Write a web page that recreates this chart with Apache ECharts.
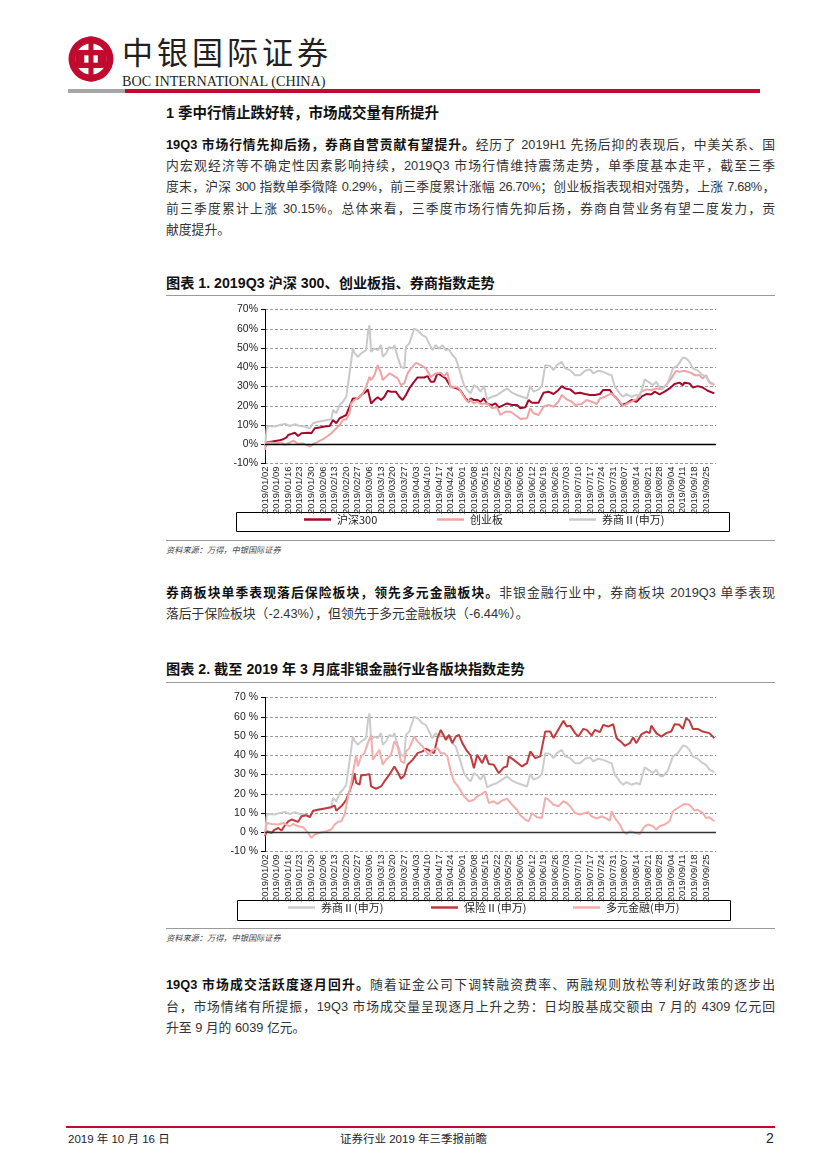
<!DOCTYPE html>
<html><head><meta charset="utf-8">
<script src="https://cdn.jsdelivr.net/npm/echarts@6/dist/echarts.min.js"></script>
<style>
body{margin:0;background:#fff;}
#page{position:relative;width:827px;height:1169px;overflow:hidden;background:#fff;
  font-family:"Liberation Sans Narrow","Liberation Sans","Noto Sans CJK SC",sans-serif;color:#333;}
.a{position:absolute;}
.para{position:absolute;left:166px;width:609px;font-size:12.8px;line-height:21.2px;}
.para div{text-align:justify;text-align-last:justify;}
.para div.last{text-align:left;text-align-last:left;}
.para div.tight{letter-spacing:-0.3px;}
.para b{color:#111;font-weight:bold;}
.ttl{position:absolute;left:166px;font-size:14.2px;font-weight:bold;color:#111;line-height:18px;}
.rule{position:absolute;left:166px;width:609px;height:1px;background:#9a9a9a;}
.src{position:absolute;left:166px;font-size:8.2px;font-style:italic;color:#444;line-height:12px;}
</style></head>
<body><div id="page">
  <svg class="a" style="left:68px;top:36px" width="46" height="46" viewBox="0 0 44 44">
    <circle cx="22" cy="22" r="21.5" fill="#C00A2E"/>
    <circle cx="22" cy="22" r="14.8" fill="#fff"/>
    <rect x="7" y="13.5" width="30" height="17" rx="4" fill="#C00A2E"/>
    <rect x="15.5" y="18.5" width="13" height="7" fill="#fff"/>
    <rect x="19.6" y="0.5" width="4.8" height="43" fill="#C00A2E"/>
  </svg>
  <div class="a" style="left:122px;top:33px;font-family:'Noto Sans CJK SC';font-size:31px;letter-spacing:4px;line-height:36px;color:#231f20;">中银国际证券</div>
  <div class="a" style="left:122px;top:73px;font-family:'Liberation Serif',serif;font-size:14.2px;line-height:16px;color:#231f20;">BOC INTERNATIONAL (CHINA)</div>
  <div class="a" style="left:68px;top:89px;width:57px;height:4px;background:#a6a6a6;"></div>
  <div class="a" style="left:125px;top:89px;width:635px;height:4px;background:#C00A2E;"></div>

  <div class="ttl" style="top:104px;font-size:14.5px;">1 季中行情止跌好转，市场成交量有所提升</div>

  <div class="para" style="top:134px;">
    <div><b>19Q3 市场行情先抑后扬，券商自营贡献有望提升。</b>经历了 2019H1 先扬后抑的表现后，中美关系、国</div>
    <div>内宏观经济等不确定性因素影响持续，2019Q3 市场行情维持震荡走势，单季度基本走平，截至三季</div>
    <div class="tight">度末，沪深 300 指数单季微降 0.29%，前三季度累计涨幅 26.70%；创业板指表现相对强势，上涨 7.68%，</div>
    <div>前三季度累计上涨 30.15%。总体来看，三季度市场行情先抑后扬，券商自营业务有望二度发力，贡</div>
    <div class="last">献度提升。</div>
  </div>

  <div class="ttl" style="top:274px;">图表 1. 2019Q3 沪深 300、创业板指、券商指数走势</div>
  <div class="rule" style="top:295px;"></div>
  <div id="c1" class="a" style="left:166px;top:300px;width:609px;height:236px;"></div>
  <div class="rule" style="top:540px;"></div>
  <div class="src" style="top:545px;">资料来源：万得，中银国际证券</div>

  <div class="para" style="top:582px;">
    <div><b>券商板块单季表现落后保险板块，领先多元金融板块。</b>非银金融行业中，券商板块 2019Q3 单季表现</div>
    <div class="last">落后于保险板块（-2.43%），但领先于多元金融板块（-6.44%）。</div>
  </div>

  <div class="ttl" style="top:660px;">图表 2. 截至 2019 年 3 月底非银金融行业各版块指数走势</div>
  <div class="rule" style="top:682px;"></div>
  <div id="c2" class="a" style="left:166px;top:688px;width:609px;height:236px;"></div>
  <div class="rule" style="top:928px;"></div>
  <div class="src" style="top:933px;">资料来源：万得，中银国际证券</div>

  <div class="para" style="top:974px;line-height:21.5px;">
    <div><b>19Q3 市场成交活跃度逐月回升。</b>随着证金公司下调转融资费率、两融规则放松等利好政策的逐步出</div>
    <div>台，市场情绪有所提振，19Q3 市场成交量呈现逐月上升之势：日均股基成交额由 7 月的 4309 亿元回</div>
    <div class="last">升至 9 月的 6039 亿元。</div>
  </div>

  <div class="a" style="left:66px;top:1126px;width:709px;height:1.5px;background:#C00A2E;"></div>
  <div class="a" style="left:68px;top:1131px;font-size:11.5px;line-height:16px;color:#222;">2019 年 10 月 16 日</div>
  <div class="a" style="left:340px;top:1131px;font-size:11.5px;line-height:16px;color:#222;">证券行业 2019 年三季报前瞻</div>
  <div class="a" style="left:766px;top:1129px;font-size:14px;line-height:18px;color:#222;">2</div>
</div>
<script>
// x = calendar days since 2019/01/02, y = cumulative change (%)
const weekLabels = ['2019/01/02','2019/01/09','2019/01/16','2019/01/23','2019/01/30','2019/02/06','2019/02/13','2019/02/20','2019/02/27','2019/03/06','2019/03/13','2019/03/20','2019/03/27','2019/04/03','2019/04/10','2019/04/17','2019/04/24','2019/05/01','2019/05/08','2019/05/15','2019/05/22','2019/05/29','2019/06/05','2019/06/12','2019/06/19','2019/06/26','2019/07/03','2019/07/10','2019/07/17','2019/07/24','2019/07/31','2019/08/07','2019/08/14','2019/08/21','2019/08/28','2019/09/04','2019/09/11','2019/09/18','2019/09/25'];
const yTicks = [-10, 0, 10, 20, 30, 40, 50, 60, 70];

const hs300 = [[0,-1.2],[1,0.9],[8,1.9],[11,2.6],[13,3.6],[14,4.8],[16,5.4],[18,6.0],[20,4.3],[22,5.7],[26,6.0],[28,5.7],[30,8.3],[32,8.6],[36,9.2],[39,9.5],[41,12.6],[43,10.9],[45,13.5],[47,14.3],[49,15.2],[51,19.5],[53,23.8],[54,23.0],[56,23.8],[58,25.6],[61,27.3],[62,28.5],[64,21.2],[66,23.0],[68,24.4],[70,23.0],[72,24.7],[74,27.8],[76,27.3],[79,27.3],[81,24.7],[83,23.0],[85,25.6],[87,29.0],[90,32.5],[92,34.7],[96,34.7],[98,35.4],[100,32.5],[102,32.5],[104,36.8],[106,35.9],[109,34.2],[112,29.9],[114,29.5],[116,29.0],[118,27.8],[121,23.8],[123,22.1],[124,23.8],[126,23.0],[128,23.0],[130,22.0],[132,23.8],[134,20.9],[137,20.4],[139,21.2],[141,19.2],[146,21.2],[149,20.4],[152,20.4],[154,18.7],[157,19.2],[159,23.0],[161,21.6],[165,21.6],[168,26.8],[171,27.3],[174,26.1],[177,28.2],[179,30.2],[181,29.0],[184,28.5],[187,26.4],[190,26.8],[193,26.1],[196,25.6],[199,25.6],[202,26.1],[204,28.2],[208,28.2],[210,25.6],[213,23.0],[215,20.4],[218,21.2],[221,23.0],[224,22.1],[227,24.7],[230,26.1],[233,25.9],[235,27.3],[238,25.9],[241,27.3],[244,29.0],[247,31.3],[250,32.0],[252,30.7],[253,32.0],[256,31.6],[258,29.5],[261,30.2],[264,29.5],[267,27.8],[271,26.4]];

const cyb = [[0,-2.9],[1,0.5],[3,0.9],[7,0.5],[10,0.9],[12,-0.3],[15,0.9],[17,1.9],[20,0.2],[23,0.5],[27,-1.2],[28,-2.1],[30,0.5],[32,1.4],[36,3.1],[40,5.7],[43,8.3],[45,10.0],[47,12.6],[49,13.0],[51,16.0],[52,21.2],[54,23.0],[55,22.1],[57,24.7],[59,26.4],[61,29.9],[63,35.0],[64,33.3],[66,35.9],[68,41.1],[70,36.8],[71,33.3],[73,35.0],[75,36.8],[77,35.9],[80,34.2],[82,30.7],[84,31.6],[86,36.8],[88,39.4],[91,42.3],[94,41.1],[97,39.4],[100,35.0],[103,36.8],[106,37.1],[108,35.4],[110,37.1],[112,29.5],[115,29.9],[117,29.0],[120,24.7],[122,22.1],[124,23.0],[126,21.2],[128,22.1],[130,20.9],[134,21.2],[137,18.7],[140,19.2],[142,15.2],[145,16.9],[148,16.9],[151,15.2],[154,13.1],[158,13.5],[160,18.7],[162,16.1],[165,15.2],[168,19.5],[171,20.4],[174,19.5],[177,22.1],[179,25.6],[182,23.3],[185,22.1],[187,20.4],[191,20.9],[194,23.0],[197,22.1],[200,20.9],[202,23.8],[205,24.7],[209,26.4],[212,23.8],[216,19.9],[218,20.9],[221,22.1],[224,23.3],[227,27.3],[230,28.5],[233,28.2],[236,29.0],[239,28.5],[242,30.7],[245,34.2],[248,38.2],[250,37.6],[253,38.2],[257,37.1],[259,35.9],[262,35.9],[264,34.2],[266,35.9],[268,32.0],[271,30.7]];

const qs = [[0,-1.2],[1,8.3],[2,9.5],[6,9.2],[9,10.0],[12,10.5],[15,9.5],[18,10.4],[21,9.5],[24,9.2],[27,8.3],[29,10.9],[32,11.7],[36,12.3],[40,13.0],[41,17.8],[43,16.1],[45,20.4],[47,22.1],[49,24.7],[51,36.8],[53,49.7],[54,47.5],[56,45.4],[57,44.6],[58,47.2],[61,48.9],[62,57.5],[63,61.8],[64,48.0],[66,49.7],[68,48.9],[70,51.5],[71,45.4],[73,47.2],[75,50.6],[77,49.7],[78,51.5],[80,45.4],[82,40.2],[84,39.4],[85,50.6],[87,52.3],[90,60.1],[92,59.2],[95,56.6],[97,55.8],[99,52.3],[101,48.9],[103,51.5],[105,49.7],[107,51.5],[109,48.9],[111,49.2],[113,46.3],[115,44.6],[117,39.4],[120,30.7],[122,28.2],[124,26.4],[126,30.7],[128,29.5],[130,27.3],[132,30.2],[134,23.3],[137,24.7],[140,25.6],[143,27.3],[146,29.0],[149,26.8],[152,25.6],[155,24.7],[158,23.8],[160,30.2],[162,27.3],[165,28.5],[167,30.2],[169,41.1],[172,40.6],[174,38.5],[176,41.1],[179,42.8],[181,39.4],[184,38.5],[187,35.9],[190,35.9],[193,38.2],[196,38.9],[198,36.8],[201,38.2],[204,37.6],[207,36.4],[209,35.9],[211,29.9],[214,26.4],[216,24.7],[218,26.1],[221,24.7],[224,25.6],[226,24.7],[229,33.7],[231,32.5],[234,30.7],[236,32.5],[238,29.5],[240,29.0],[243,32.0],[246,39.4],[249,41.1],[252,45.1],[254,44.6],[256,42.8],[258,39.4],[261,38.2],[264,35.9],[266,35.0],[268,32.5],[271,31.2]];

const bx = [[0,-2.1],[1,0.5],[2,0.9],[4,-0.3],[6,1.4],[8,2.2],[10,0.9],[12,3.6],[14,5.7],[16,6.6],[20,5.4],[22,8.3],[25,8.8],[27,7.8],[29,11.2],[32,11.7],[36,12.3],[40,13.0],[42,14.0],[43,11.2],[46,13.5],[48,15.7],[49,16.9],[51,21.2],[53,26.4],[54,30.7],[55,25.6],[57,24.7],[58,29.5],[61,29.9],[63,30.2],[64,23.8],[67,22.6],[70,23.8],[72,26.4],[75,29.9],[78,34.2],[80,31.3],[82,27.8],[84,29.5],[86,35.1],[89,37.6],[92,41.1],[95,42.0],[97,43.4],[100,42.0],[102,41.1],[104,48.9],[106,53.2],[107,51.5],[109,48.0],[111,50.6],[113,46.3],[115,49.7],[117,50.6],[119,46.3],[122,42.0],[124,39.9],[126,33.3],[128,40.2],[131,35.9],[133,40.2],[135,35.4],[138,35.1],[141,30.7],[144,33.7],[146,34.2],[147,39.4],[150,37.6],[155,34.2],[158,35.9],[160,42.0],[163,38.5],[166,39.4],[169,52.3],[172,52.3],[174,48.9],[178,54.9],[180,57.9],[182,54.9],[184,55.4],[187,51.5],[189,49.7],[192,53.7],[194,53.2],[197,50.3],[199,53.2],[202,52.0],[204,55.8],[207,54.9],[210,56.1],[212,48.9],[215,46.8],[217,44.9],[220,46.3],[222,49.2],[224,46.3],[227,50.9],[230,52.3],[232,51.5],[233,55.4],[236,51.5],[239,49.7],[242,51.5],[245,52.3],[247,56.1],[250,55.8],[252,53.7],[254,59.2],[256,57.9],[258,53.7],[261,53.7],[264,52.3],[268,51.5],[271,48.9]];

const dyjr = [[0,-1.2],[1,4.8],[4,4.3],[8,4.0],[11,4.8],[15,3.1],[17,4.3],[20,3.1],[23,2.6],[26,-0.3],[28,-2.9],[30,-1.2],[33,-0.3],[37,0.5],[40,1.4],[42,4.0],[44,5.4],[46,5.7],[48,9.2],[50,17.8],[52,25.6],[53,30.7],[55,40.2],[56,34.2],[58,39.4],[60,41.1],[62,46.3],[64,50.6],[65,37.7],[66,38.5],[69,42.8],[71,35.1],[73,37.7],[76,40.2],[78,47.2],[80,44.6],[82,36.8],[84,35.9],[85,42.0],[87,43.7],[90,49.7],[92,47.2],[95,44.6],[97,42.0],[99,40.2],[101,42.8],[104,43.7],[106,41.1],[108,41.1],[110,39.4],[112,31.6],[114,26.4],[117,23.0],[120,18.7],[123,16.1],[126,16.9],[128,18.7],[130,19.5],[133,21.2],[135,15.2],[138,16.1],[140,14.7],[143,16.4],[146,17.4],[149,14.3],[152,11.7],[154,8.8],[157,6.6],[159,5.7],[161,10.0],[164,7.8],[167,7.4],[169,17.8],[171,16.9],[174,14.3],[177,13.5],[180,16.1],[182,15.2],[184,13.5],[187,10.0],[190,9.2],[193,10.0],[195,10.5],[197,8.3],[200,7.1],[203,8.3],[206,7.1],[208,6.0],[209,10.9],[211,7.4],[214,4.0],[216,0.5],[218,-0.9],[220,0.5],[223,-0.3],[226,-0.9],[229,3.1],[231,4.0],[234,3.1],[236,1.4],[238,3.1],[241,4.0],[244,5.7],[246,10.9],[249,12.6],[253,14.7],[256,14.3],[259,11.2],[261,11.7],[264,10.0],[266,7.4],[268,7.8],[271,5.7]];

const chart1Series = [
  {name:'沪深300', data:hs300, color:'#A50A2A', legendX:138},
  {name:'创业板', data:cyb, color:'#EFA3A5', legendX:271},
  {name:'券商Ⅱ(申万)', data:qs, color:'#C9C9C9', legendX:403}
];
const chart2Series = [
  {name:'券商Ⅱ(申万)', data:qs, color:'#CCCCCC', legendX:122},
  {name:'保险Ⅱ(申万)', data:bx, color:'#C03A3E', legendX:265},
  {name:'多元金融(申万)', data:dyjr, color:'#F2ADAD', legendX:407}
];

const narrow = "'Liberation Sans Narrow','Liberation Sans',Arial,sans-serif";
const cjk = "'Noto Sans CJK SC',sans-serif";

function build(dom, defs, pctSep, zeroColor, box){
  const chart = echarts.init(dom, null, {renderer:'canvas'});
  chart.setOption({
    animation:false,
    grid:{left:99, top:9.5, width:451, height:154, containLabel:false},
    xAxis:{type:'value', min:0, max:272, interval:7,
      axisLine:{show:false}, axisTick:{show:false}, splitLine:{show:false},
      axisLabel:{rotate:90, margin:3, fontSize:9.5, color:'#222', fontFamily:narrow,
        showMaxLabel:false,
        formatter:(v)=> (v % 7 === 0 && weekLabels[v/7]) ? weekLabels[v/7] : ''}},
    yAxis:{type:'value', min:yTicks[0], max:yTicks[yTicks.length-1], interval:10,
      axisLine:{show:true, lineStyle:{color:'#000', width:1}},
      axisTick:{show:true, length:4, lineStyle:{color:'#000'}},
      axisLabel:{margin:7, fontSize:10.5, color:'#222', fontFamily:narrow,
        formatter:(v)=> v + pctSep + '%'},
      splitLine:{show:true, lineStyle:{color:'#9a9a9a', width:1, type:[3,2]}}},
    legend: defs.map(d=>({data:[d.name], left:d.legendX, top:214, padding:0,
      icon:'rect', itemWidth:27, itemHeight:2.5, itemGap:0, selectedMode:false,
      textStyle:{fontSize:11, color:'#222', fontFamily:cjk, padding:[0,0,0,1]}})),
    graphic:[{type:'rect', silent:true,
      shape:{x:box[0]+0.5, y:box[1]+0.5, width:box[2], height:box[3]},
      style:{fill:'none', stroke:'#000', lineWidth:1}}],
    series: defs.map((d,i)=>{
      const s = {type:'line', name:d.name, data:d.data, color:d.color,
        showSymbol:false, symbol:'none', z:2+i,
        lineStyle:{width:2, color:d.color}};
      if(i===0){
        s.markLine = {silent:true, symbol:'none', label:{show:false},
          lineStyle:{color:zeroColor, width:1.3, type:'solid'}, data:[{yAxis:0}]};
      }
      return s;
    })
  });
}
build(document.getElementById('c1'), chart1Series, '', '#000', [70,212,493,19]);
build(document.getElementById('c2'), chart2Series, ' ', '#333', [71,212,493,20]);
</script>
</body></html>
